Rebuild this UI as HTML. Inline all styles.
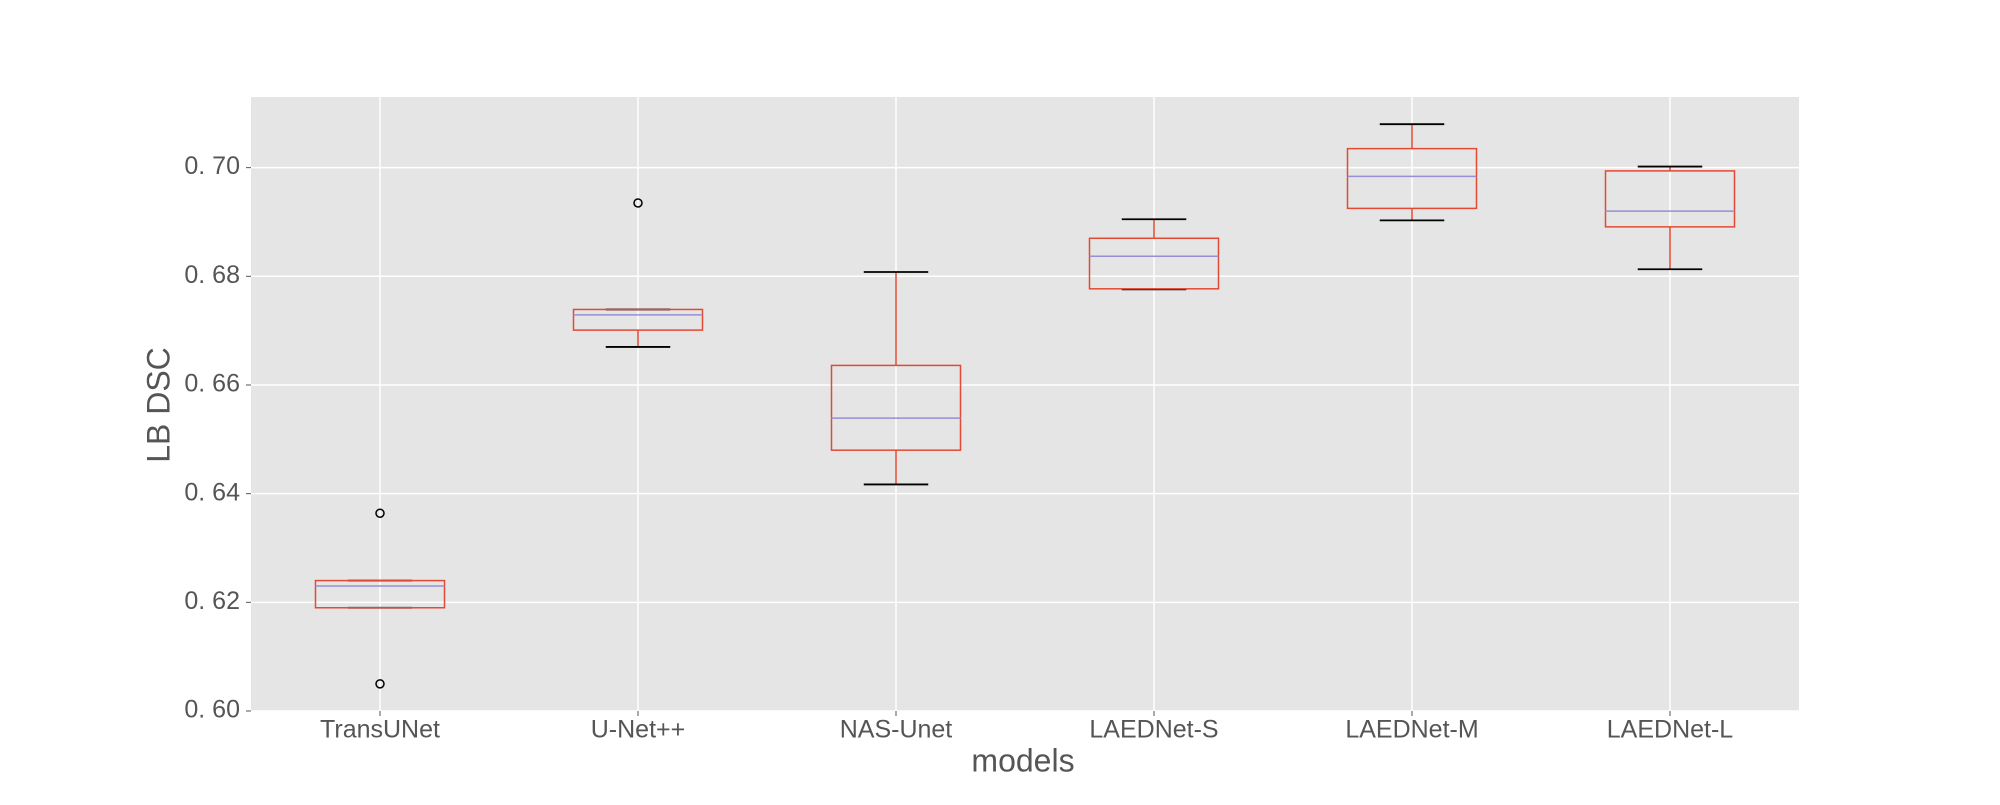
<!DOCTYPE html>
<html><head><meta charset="utf-8"><style>
body{margin:0;background:#fff;}
svg text{font-family:"WenQuanYi Zen Hei","Liberation Sans",sans-serif;fill:#555;}
</style></head><body>
<svg id="chart" width="2000" height="800" xmlns="http://www.w3.org/2000/svg">
<rect x="251" y="97" width="1548" height="614" fill="#E5E5E5"/>
<g id="grid"></g><g id="marks"></g><g id="axes"></g>
<text x="161" y="405" font-size="32" text-anchor="middle" dominant-baseline="middle" transform="rotate(-90 161 405)">LB DSC</text>
<text x="1023" y="763" font-size="32" text-anchor="middle" dominant-baseline="middle">models</text>
</svg>
<script>
const categories=["TransUNet","U-Net++","NAS-Unet","LAEDNet-S","LAEDNet-M","LAEDNet-L"];
const whiskerLow=[0.619,0.667,0.6417,0.6776,0.6903,0.6813];
const q1=[0.619,0.6701,0.648,0.6777,0.6925,0.6891];
const median=[0.623,0.6729,0.6539,0.6837,0.6984,0.692];
const q3=[0.624,0.6739,0.6636,0.687,0.7035,0.6994];
const whiskerHigh=[0.624,0.6739,0.6808,0.6905,0.708,0.7002];
const fliers=[[0.6364,0.605],[0.6935],[],[],[],[]];
const yTicks=[0.60,0.62,0.64,0.66,0.68,0.70];
const yTickLabels=["0. 60","0. 62","0. 64","0. 66","0. 68","0. 70"];

const L=251,R=1799,T=97,B=711,yMin=0.60,yMax=0.713;
const NS="http://www.w3.org/2000/svg";
const y=v=>B-(v-yMin)/(yMax-yMin)*(B-T);
const step=(R-L)/categories.length;
const x=i=>L+step*(i+0.5);
function mk(tag,attrs,parent){const e=document.createElementNS(NS,tag);for(const k in attrs)e.setAttribute(k,attrs[k]);document.getElementById(parent).appendChild(e);return e;}

yTicks.forEach((v,i)=>{
  const g=mk('line',{x1:L,x2:R,y1:y(v),y2:y(v),stroke:'#fff','stroke-width':1.5},'grid');
  
  
  const tk=mk('line',{x1:L-5,x2:L,y1:y(v),y2:y(v),stroke:'#555','stroke-width':1},'axes');
  
  
  const t=mk('text',{x:240,y:y(v),'font-size':25,'text-anchor':'end','dominant-baseline':'middle'},'axes');
  t.textContent=yTickLabels[i];
  
  
});
categories.forEach((c,i)=>{
  const cx=x(i);
  const g=mk('line',{x1:cx,x2:cx,y1:T,y2:B,stroke:'#fff','stroke-width':1.5},'grid');
  
  
  const tk=mk('line',{x1:cx,x2:cx,y1:B,y2:B+5,stroke:'#555','stroke-width':1},'axes');
  
  
  const t=mk('text',{x:cx,y:731,'font-size':25,'text-anchor':'middle','dominant-baseline':'middle'},'axes');
  t.textContent=c;
  
  
  const bw=step/2,cw=step/4;
  const w1=mk('line',{x1:cx,x2:cx,y1:y(q3[i]),y2:y(whiskerHigh[i]),stroke:'#E24A33','stroke-width':1.5},'marks');
  
  
  const w2=mk('line',{x1:cx,x2:cx,y1:y(q1[i]),y2:y(whiskerLow[i]),stroke:'#E24A33','stroke-width':1.5},'marks');
  
  
  const c1=mk('line',{x1:cx-cw/2,x2:cx+cw/2,y1:y(whiskerHigh[i]),y2:y(whiskerHigh[i]),stroke:'#000','stroke-width':1.8},'marks');
  
  
  const c2=mk('line',{x1:cx-cw/2,x2:cx+cw/2,y1:y(whiskerLow[i]),y2:y(whiskerLow[i]),stroke:'#000','stroke-width':1.8},'marks');
  
  
  const b=mk('rect',{x:cx-bw/2,y:y(q3[i]),width:bw,height:y(q1[i])-y(q3[i]),fill:'none',stroke:'#E24A33','stroke-width':1.5},'marks');
  
  
  const m=mk('line',{x1:cx-bw/2,x2:cx+bw/2,y1:y(median[i]),y2:y(median[i]),stroke:'#988ED5','stroke-width':1.5},'marks');
  
  
  fliers[i].forEach(v=>{
    const f=mk('circle',{cx:cx,cy:y(v),r:4,fill:'none',stroke:'#000','stroke-width':1.5},'marks');
    
    
  });
});
</script>
</body></html>
